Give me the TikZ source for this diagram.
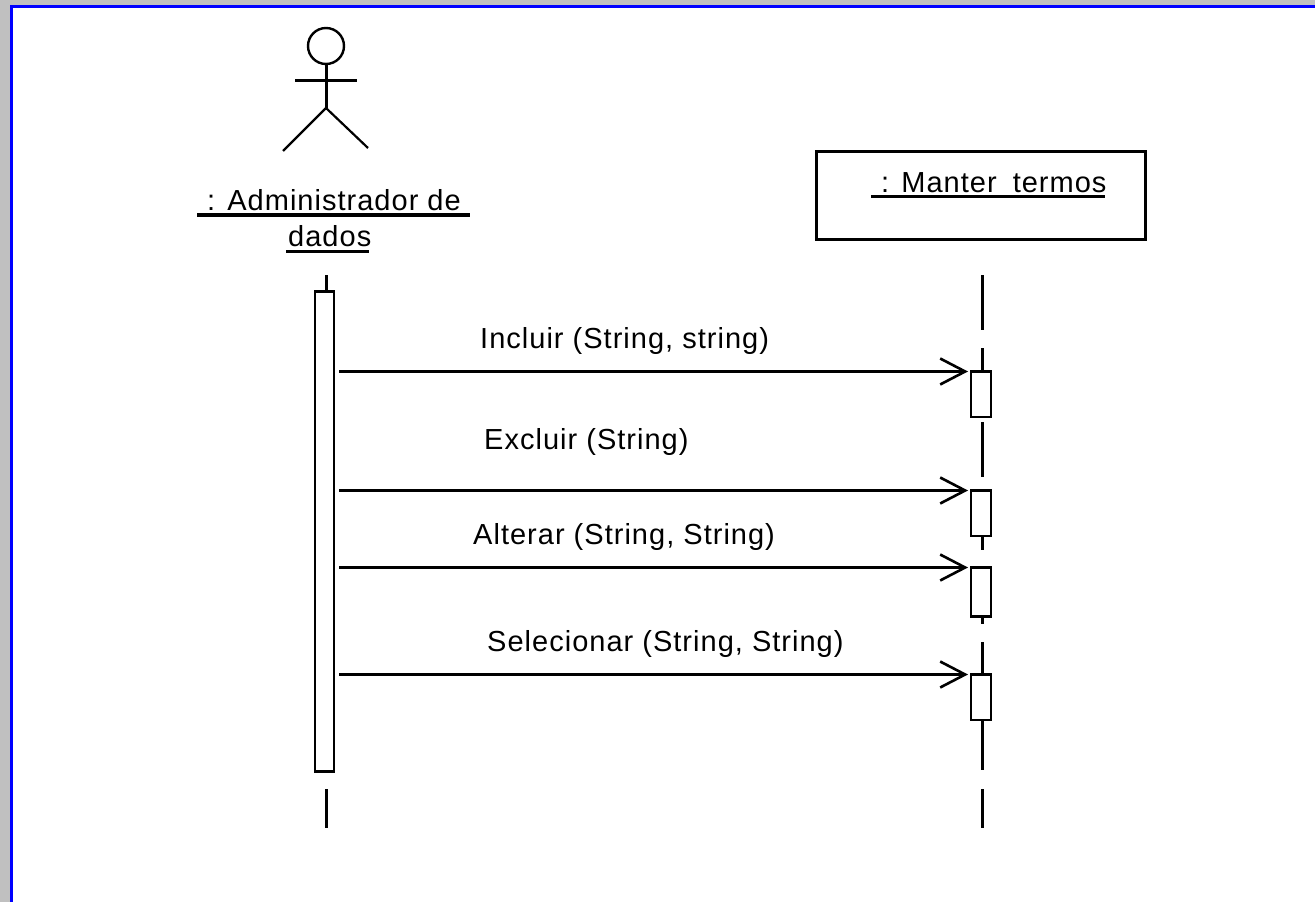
\documentclass[tikz,border=0pt]{standalone}
\usepackage{fontspec}
\setmainfont{Liberation Sans}
\newfontfamily\lab[LetterSpace=3.5]{Liberation Sans}
\usetikzlibrary{arrows.meta}
\definecolor{framegray}{RGB}{192,192,192}
\definecolor{frameblue}{RGB}{0,0,255}
\tikzset{
  x=1pt,y=-1pt,
  stroke/.style={black,line width=3pt},
  thin stroke/.style={black,line width=2.2pt},
  activation/.style={draw=black,fill=white,line width=2.8pt,minimum width=20pt,inner sep=0pt,outer sep=0pt,anchor=north west},
  label text/.style={font=\fontsize{29}{33}\selectfont\lab,inner sep=0pt,anchor=base west},
  message/.style={stroke,-{Straight Barb[length=25pt,width=26pt,line width=2.6pt]},shorten >=3pt,shorten <=5pt},
  lifeline/.style={stroke}
}
\begin{document}
\begin{tikzpicture}
\useasboundingbox (0,0) rectangle (1315,902);
% window frame
\fill[white] (0,0) rectangle (1315,902);
\fill[framegray] (0,0) rectangle (1315,5);
\fill[framegray] (0,0) rectangle (10,902);
\fill[frameblue] (10,5) rectangle (1315,8);
\fill[frameblue] (10,5) rectangle (13,902);

% actor
\node[draw=black,circle,line width=2.4pt,minimum size=36pt,inner sep=0pt,outer sep=0pt] (head) at (326,46) {};
\coordinate (hip) at (326,108);
\coordinate (armL) at (295,80);
\coordinate (armR) at (357,80);
\coordinate (footL) at (283,151);
\coordinate (footR) at (368,148);
\draw[stroke] (head.south) -- (hip);
\draw[stroke] (armL) -- (armR);
\draw[thin stroke] (footL) -- (hip) -- (footR);

% actor name
\node[label text] (adm) at (207,210) {: Administrador de};
\node[label text] (dados) at (288,246) {dados};
\coordinate (u1a) at (197,215); \coordinate (u1b) at (470,215);
\coordinate (u2a) at (286,251.5); \coordinate (u2b) at (369,251.5);
\draw[line width=3.6pt] (u1a) -- (u1b);
\draw[line width=3pt] (u2a) -- (u2b);

% object box
\node[draw=black,fill=white,line width=3pt,minimum width=329pt,minimum height=87.5pt,inner sep=0pt,outer sep=0pt,anchor=north west] (obj) at (816,151.5) {};
\node[label text] (mt) at (881,192) {: Manter\hspace{7pt} termos};
\coordinate (u3a) at (871,196.5); \coordinate (u3b) at (1105,196.5);
\draw[line width=3pt] (u3a) -- (u3b);

% lifelines
\foreach \n/\a/\b in {1/275/330,2/422/477,3/536/550,4/616/624,5/642/674,6/720/770,7/789/828,8/348/372}{
  \coordinate (ra\n) at (982,\a);
  \coordinate (rb\n) at (982,\b);
  \draw[lifeline] (ra\n) -- (rb\n);
}
\coordinate (la1) at (326,275); \coordinate (lb1) at (326,292);
\coordinate (la2) at (326,789); \coordinate (lb2) at (326,828);
\draw[lifeline] (la1) -- (lb1);
\draw[lifeline] (la2) -- (lb2);

% activations
\node[activation,minimum width=19pt,minimum height=480pt] (src) at (315,291.5) {};
\node[activation,minimum height=45.5pt] (t1) at (971,371.5) {};
\node[activation,minimum height=45.5pt] (t2) at (971,490.5) {};
\node[activation,minimum height=49pt] (t3) at (971,567.5) {};
\node[activation,minimum height=45.5pt] (t4) at (971,674.5) {};

% messages
\draw[message] (src.east |- t1.north west) -- (t1.north west);
\draw[message] (src.east |- t2.north west) -- (t2.north west);
\draw[message] (src.east |- t3.north west) -- (t3.north west);
\draw[message] (src.east |- t4.north west) -- (t4.north west);

\node[label text] (m1) at (480,348) {Incluir (String, string)};
\node[label text] (m2) at (484,449) {Excluir (String)};
\node[label text] (m3) at (473,544) {Alterar (String, String)};
\node[label text] (m4) at (487,651) {Selecionar (String, String)};
\end{tikzpicture}
\end{document}
